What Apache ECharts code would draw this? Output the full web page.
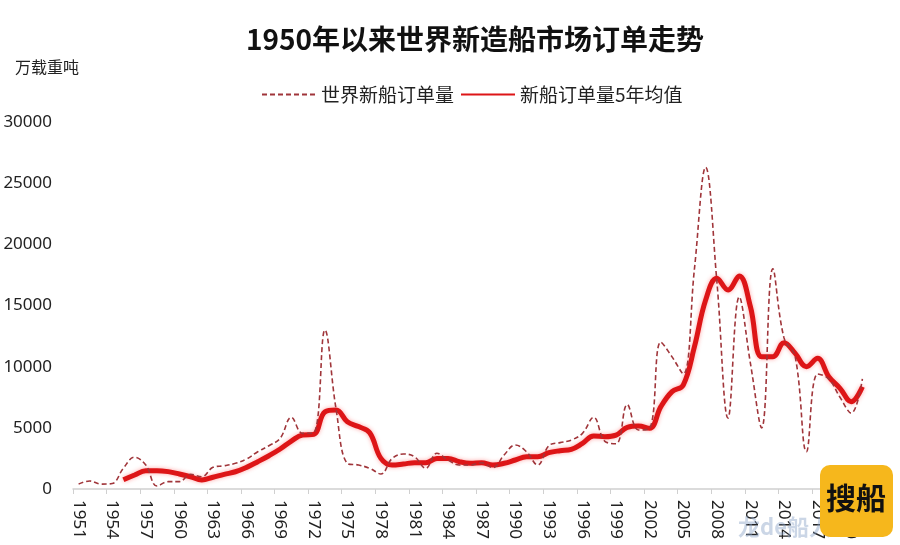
<!DOCTYPE html>
<html>
<head>
<meta charset="utf-8">
<script src="https://cdn.jsdelivr.net/npm/echarts@6/dist/echarts.min.js"></script>
<style>
  html, body { margin: 0; padding: 0; background: #fff; }
  #chart { width: 900px; height: 545px; }
</style>
</head>
<body>
<div id="chart"></div>
<script>
// years 1951 - 2021
const years = []
for (let y = 1951; y <= 2021; y++) years.push(String(y))

// 世界新船订单量 (万载重吨)
const orders = [
  400, 650, 400, 450, 1700, 2600, 1960, 250, 600, 600,      // 1951-1960
  1200, 1000, 1770, 1900, 2100, 2450, 3050, 3540, 4140, 5860, // 1961-1970
  4550, 4600, 13000, 6500, 2100, 1960, 1690, 1230, 2500, 2860, // 1971-1980
  2640, 1690, 2920, 2370, 1960, 1960, 2150, 1740, 2780, 3600, // 1981-1990
  3050, 1960, 3540, 3790, 4000, 4550, 5860, 3900, 3700, 6900, // 1991-2000
  4820, 4960, 12000, 10800, 9400, 18000, 26300, 17000, 5800, 15700, // 2001-2010
  10270, 5000, 18000, 12350, 10800, 3050, 9400, 9000, 7500, 6200, // 2011-2020
  9000                                                        // 2021
]

// 新船订单量5年均值
const avg5 = [
  null, null, null, null, 750, 1140, 1500, 1500, 1420, 1230,
  1000, 740, 960, 1200, 1410, 1770, 2230, 2720, 3270, 3920,
  4410, 4470, 6300, 6450, 5500, 5100, 4600, 2500, 1960, 2040,
  2150, 2150, 2500, 2500, 2230, 2100, 2150, 1960, 2100, 2370,
  2640, 2640, 2970, 3130, 3240, 3730, 4330, 4280, 4410, 5040,
  5150, 4960, 6730, 7960, 8500, 11630, 15450, 17220, 16270, 17410,
  14900, 10820, 10820, 11960, 11090, 10000, 10680, 9180, 8230, 7140,
  8360
]

const seriesNames = ['世界新船订单量', '新船订单量5年均值']

const myEchart = echarts.init(document.getElementById('chart'))
myEchart.setOption({
  animation: false,
  textStyle: { fontFamily: 'Noto Sans, Noto Sans CJK SC' },
  title: {
    text: '1950年以来世界新造船市场订单走势',
    left: 241,
    top: 20,
    textStyle: {
      fontFamily: 'Noto Sans CJK SC',
      fontSize: 28,
      fontWeight: 'bold',
      color: '#111'
    }
  },
  legend: {
    data: seriesNames,
    left: 256,
    top: 80,
    itemWidth: 54,
    itemHeight: 14,
    itemGap: 6,
    itemStyle: { opacity: 0 },
    textStyle: {
      fontFamily: 'Noto Sans CJK SC',
      fontSize: 19,
      color: '#222'
    }
  },
  grid: {
    left: 73,
    right: 32,
    top: 122,
    bottom: 56
  },
  xAxis: {
    type: 'category',
    boundaryGap: true,
    data: years,
    axisLine: { lineStyle: { color: '#d0d0d0', width: 1.5 } },
    axisTick: { show: true, interval: 2, length: 5, lineStyle: { color: '#d0d0d0' } },
    axisLabel: {
      interval: 2,
      rotate: -90,
      margin: 11,
      fontFamily: 'Noto Sans',
      fontSize: 17,
      color: '#222'
    }
  },
  yAxis: {
    type: 'value',
    min: 0,
    max: 30000,
    interval: 5000,
    axisLine: { show: false },
    axisTick: { show: false },
    splitLine: { show: false },
    axisLabel: {
      margin: 21,
      fontFamily: 'Noto Sans',
      fontSize: 17,
      color: '#222',
      formatter: v => String(v)
    }
  },
  graphic: [
    {
      type: 'text',
      left: 15,
      top: 59,
      style: { text: '万载重吨', fontFamily: 'Noto Sans CJK SC', fontSize: 16, fill: '#222' }
    },
    {
      type: 'text',
      left: 738,
      top: 516,
      zlevel: 5,
      z: 100,
      style: { text: '龙de船人', fontFamily: 'Noto Sans CJK SC', fontSize: 22, fontWeight: 'bold', fill: 'rgba(140,165,200,0.45)' }
    },
    {
      type: 'rect',
      left: 820,
      top: 465,
      zlevel: 5,
      z: 100,
      shape: { width: 73, height: 72, r: 10 },
      style: { fill: '#F6B71C' }
    },
    {
      type: 'text',
      left: 826,
      top: 483,
      zlevel: 5,
      z: 101,
      style: {
        text: '搜船',
        fontFamily: 'Noto Sans CJK SC',
        fontSize: 30,
        fontWeight: 'bold',
        fill: '#111'
      }
    }
  ],
  series: [
    {
      name: seriesNames[0],
      type: 'line',
      data: orders,
      smooth: 0.4,
      symbol: 'none',
      z: 3,
      lineStyle: { color: '#A0353A', width: 1.6, type: [5, 3] },
      itemStyle: { color: '#A0353A' }
    },
    {
      name: seriesNames[1],
      type: 'line',
      data: avg5,
      smooth: 0.4,
      symbol: 'none',
      connectNulls: false,
      z: 2,
      lineStyle: {
        color: '#DD1517',
        width: 5,
        shadowColor: 'rgba(255,60,60,0.45)',
        shadowBlur: 4
      },
      itemStyle: { color: '#DD1517' }
    }
  ]
})
</script>
</body>
</html>
